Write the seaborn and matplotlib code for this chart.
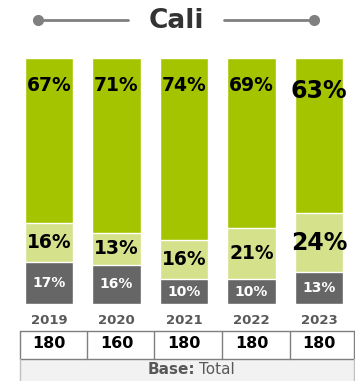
import matplotlib
matplotlib.use("Agg")
import matplotlib.pyplot as plt
import seaborn as sns
import pandas as pd
from matplotlib.lines import Line2D
from matplotlib.patches import Rectangle

title = "Cali"
years = ["2019", "2020", "2021", "2022", "2023"]
top_vals = [67, 71, 74, 69, 63]      # green
mid_vals = [16, 13, 16, 21, 24]      # light green
low_vals = [17, 16, 10, 10, 13]      # dark gray
bases = ["180", "160", "180", "180", "180"]
base_label_bold = "Base:"
base_label = "Total"
highlight = [False, False, False, False, True]

sns.set_theme(style="white")
plt.rcParams['font.family'] = ['DejaVu Sans']

W, H = 355, 381
fig = plt.figure(figsize=(W/100, H/100), dpi=100)

df = pd.DataFrame({"year": years, "top": top_vals, "mid": mid_vals, "low": low_vals})
df["c_total"] = df["top"] + df["mid"] + df["low"]
df["c_mid"] = df["mid"] + df["low"]

ax = fig.add_axes([0, (H-304)/H, 1, 246/H])
green, light, dark = "#a5c400", "#d5e28b", "#666666"
sns.barplot(data=df, x="year", y="c_total", color=green, width=0.715, ax=ax, saturation=1)
sns.barplot(data=df, x="year", y="c_mid", color=light, width=0.715, ax=ax, saturation=1)
sns.barplot(data=df, x="year", y="low", color=dark, width=0.715, ax=ax, saturation=1)
ax.set_xlim(-49/67.5, 4 + 36/67.5)
ax.set_ylim(0, 100)
ax.axis("off")

for i in range(len(years)):
    big = highlight[i]
    ax.text(i, 89 - (2.5 if big else 0), f"{top_vals[i]}%", ha="center", va="center",
            fontsize=17 if big else 13.5, fontweight="bold", color="black")
    ax.text(i, low_vals[i] + mid_vals[i]/2, f"{mid_vals[i]}%", ha="center", va="center",
            fontsize=17 if big else 13.5, fontweight="bold", color="black")
    ax.text(i, low_vals[i]/2, f"{low_vals[i]}%", ha="center", va="center",
            fontsize=10, fontweight="bold", color="white")

def fx(x): return x / W
def fy(y): return 1 - y / H

# title
fig.text(fx(176), fy(21), title, ha="center", va="center", fontsize=19, fontweight="bold", color="#333333")
for x0, x1, dotx in [(38, 128, 38), (224, 314, 314)]:
    fig.add_artist(Line2D([fx(x0), fx(x1)], [fy(20), fy(20)], color="#808080", lw=2))
    fig.add_artist(Line2D([fx(dotx)], [fy(20)], marker="o", markersize=7, color="#808080"))

# years and table
centers = [49 + 67.5*i for i in range(5)]
for i, c in enumerate(centers):
    fig.text(fx(c), fy(321), years[i], ha="center", va="center", fontsize=9.5, fontweight="bold", color="#595959")
    fig.text(fx(c), fy(344), bases[i], ha="center", va="center", fontsize=11.5, fontweight="bold", color="black")

fig.add_artist(Rectangle((fx(20), 0), fx(355)-fx(20), fy(359), facecolor="#f2f2f2", edgecolor="none"))
lc = "#7f7f7f"
fig.add_artist(Line2D([fx(20), fx(354)], [fy(331), fy(331)], color=lc, lw=1))
fig.add_artist(Line2D([fx(20), fx(354)], [fy(359), fy(359)], color=lc, lw=1))
for x in [20, 87, 154, 222, 290, 354]:
    fig.add_artist(Line2D([fx(x), fx(x)], [fy(331), fy(359)], color=lc, lw=1))
fig.add_artist(Line2D([fx(20), fx(20)], [fy(359), 0], color="#bfbfbf", lw=1))
fig.add_artist(Line2D([fx(354), fx(354)], [fy(359), 0], color="#bfbfbf", lw=1))

fig.text(fx(195), fy(369), base_label_bold, ha="right", va="center", fontsize=11, fontweight="bold", color="#595959")
fig.text(fx(199), fy(369), base_label, ha="left", va="center", fontsize=11, color="#595959")

fig.savefig("out.png", dpi=100)
